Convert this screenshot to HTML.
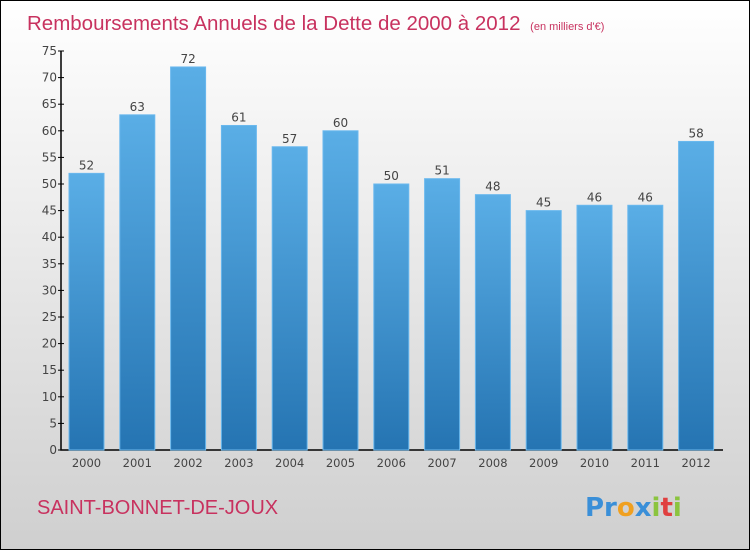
<!DOCTYPE html>
<html><head><meta charset="utf-8"><style>
body{margin:0}
#c{width:750px;height:550px;position:relative;box-sizing:border-box;border:1px solid #000;background:linear-gradient(#ffffff,#cfcfcf);font-family:"DejaVu Sans","Liberation Sans",sans-serif;overflow:hidden}
</style></head><body>
<div id="c">
<svg width="748" height="548" style="position:absolute;left:0;top:0" id="s">
<defs><linearGradient id="g" x1="0" y1="0" x2="0" y2="1"><stop offset="0" stop-color="#5aaee6"/><stop offset="1" stop-color="#2574b2"/></linearGradient></defs>
<text x="26" y="29" font-size="20.5" fill="#c8325f" font-family="Liberation Sans">Remboursements Annuels de la Dette de 2000 à 2012 <tspan font-size="11" dx="4">(en milliers d'€)</tspan></text>
<text x="36" y="513" font-size="20" fill="#c8325f" font-family="Liberation Sans">SAINT-BONNET-DE-JOUX</text>
<text x="584" y="515" font-size="26" font-weight="bold"><tspan fill="#3a8fd8">Pr</tspan><tspan fill="#f0a020">o</tspan><tspan fill="#3a8fd8">x</tspan><tspan fill="#8bc43f">i</tspan><tspan fill="#e04040">t</tspan><tspan fill="#8bc43f">i</tspan></text>
<g id="plot"></g>
</svg>
</div>
<script>
const categories=["2000","2001","2002","2003","2004","2005","2006","2007","2008","2009","2010","2011","2012"];
const values=[52,63,72,61,57,60,50,51,48,45,46,46,58];
const yTicks=[0,5,10,15,20,25,30,35,40,45,50,55,60,65,70,75];
const ns="http://www.w3.org/2000/svg";
const g=document.getElementById('plot');
const y0=449,yTop=50,maxV=75;
const y=v=>y0-(y0-yTop)*v/maxV;
const x=i=>85.5+i*50.8;
function mk(t,a,txt){const e=document.createElementNS(ns,t);for(const k in a)e.setAttribute(k,a[k]);if(txt!==undefined)e.textContent=txt;g.appendChild(e);return e;}
let ax=mk('path',{d:`M60,${yTop} V${y0} H722`,stroke:'#000','stroke-width':1.5,fill:'none'});


yTicks.forEach(t=>{
 let l=mk('line',{x1:57,x2:63,y1:y(t),y2:y(t),stroke:'#000'});
 
 
 let tx=mk('text',{x:56,y:y(t)+4,'text-anchor':'end','font-size':12,fill:'#444'},t);
 
 
});
categories.forEach((c,i)=>{
 const cx=x(i),top=y(values[i]);
 let r=mk('rect',{x:cx-17.5,y:top,width:35,height:y0-top,fill:'url(#g)',stroke:'#6ab8ee','stroke-width':1});
 
 
 let v=mk('text',{x:cx,y:top-4,'text-anchor':'middle','font-size':12,fill:'#444'},values[i]);
 
 
 let xl=mk('text',{x:cx,y:y0+17,'text-anchor':'middle','font-size':11.5,fill:'#444'},c);
 
 
});
</script>
</body></html>
